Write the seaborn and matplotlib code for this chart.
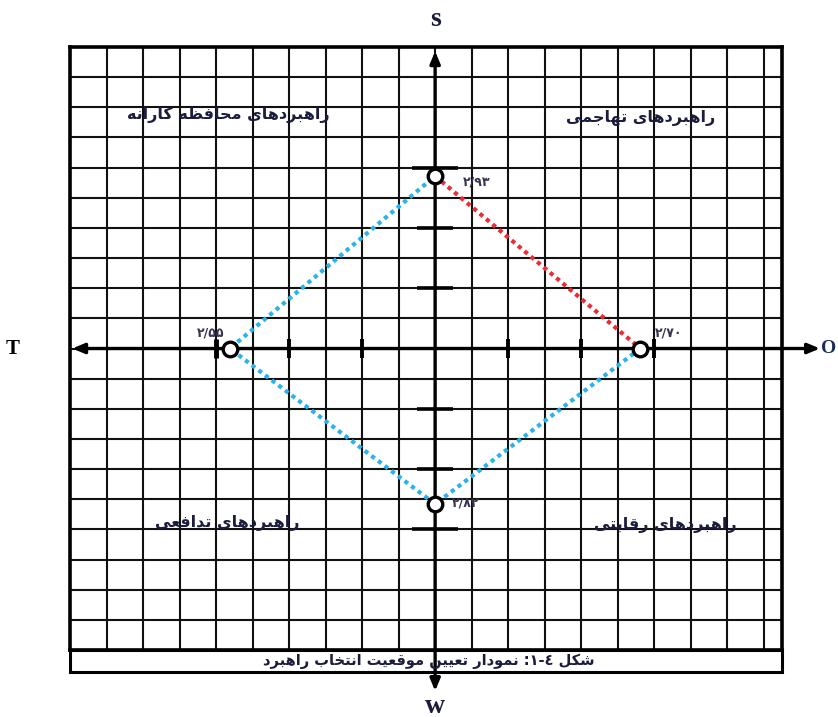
import numpy as np
import pandas as pd
import matplotlib
matplotlib.use("Agg")
import matplotlib.pyplot as plt
import seaborn as sns
from matplotlib.patches import Rectangle

# ---------------- data ----------------
point_names = ["S", "T", "O", "W"]
point_x = [0.0, -2.81, 2.81, 0.0]          # positions
point_y = [2.86, 0.0, 0.0, -2.58]
point_labels = ["۲/۹۳", "۲/۵۵", "۲/۷۰", "۲/۸۲"]
axis_ticks = [-3, -2, -1, 1, 2, 3]
quadrant_texts = ["راهبردهای محافظه کارانه", "راهبردهای تهاجمی",
                  "راهبردهای تدافعی", "راهبردهای رقابتی"]
caption = "شکل ٤-١: نمودار تعیین موقعیت انتخاب راهبرد"

# ---------------- minimal Arabic/Persian shaping ----------------
FORMS = {
    'ا': ('\uFE8D', '\uFE8E', None, None),
    'ب': ('\uFE8F', '\uFE90', '\uFE91', '\uFE92'),
    'ت': ('\uFE95', '\uFE96', '\uFE97', '\uFE98'),
    'ج': ('\uFE9D', '\uFE9E', '\uFE9F', '\uFEA0'),
    'ح': ('\uFEA1', '\uFEA2', '\uFEA3', '\uFEA4'),
    'خ': ('\uFEA5', '\uFEA6', '\uFEA7', '\uFEA8'),
    'د': ('\uFEA9', '\uFEAA', None, None),
    'ر': ('\uFEAD', '\uFEAE', None, None),
    'ش': ('\uFEB5', '\uFEB6', '\uFEB7', '\uFEB8'),
    'ظ': ('\uFEC5', '\uFEC6', '\uFEC7', '\uFEC8'),
    'ع': ('\uFEC9', '\uFECA', '\uFECB', '\uFECC'),
    'ف': ('\uFED1', '\uFED2', '\uFED3', '\uFED4'),
    'ق': ('\uFED5', '\uFED6', '\uFED7', '\uFED8'),
    'ل': ('\uFEDD', '\uFEDE', '\uFEDF', '\uFEE0'),
    'م': ('\uFEE1', '\uFEE2', '\uFEE3', '\uFEE4'),
    'ن': ('\uFEE5', '\uFEE6', '\uFEE7', '\uFEE8'),
    'ه': ('\uFEE9', '\uFEEA', '\uFEEB', '\uFEEC'),
    'و': ('\uFEED', '\uFEEE', None, None),
    'ی': ('\uFBFC', '\uFBFD', '\uFBFE', '\uFBFF'),
    'ک': ('\uFB8E', '\uFB8F', '\uFB90', '\uFB91'),
}


def shape(s):
    out = []
    for i, c in enumerate(s):
        if c not in FORMS:
            out.append(c)
            continue
        prev = s[i - 1] if i > 0 else ''
        nxt = s[i + 1] if i + 1 < len(s) else ''
        jp = prev in FORMS and FORMS[prev][2] is not None
        jn = FORMS[c][2] is not None and nxt in FORMS
        iso, fin, ini, med = FORMS[c]
        if jp and jn:
            out.append(med)
        elif jp:
            out.append(fin)
        elif jn:
            out.append(ini)
        else:
            out.append(iso)
    return ''.join(reversed(out))


# ---------------- figure ----------------
sns.set_theme(style="white")
plt.rcParams['font.family'] = ['DejaVu Sans']

W, H = 838, 717
fig = plt.figure(figsize=(W / 100, H / 100), dpi=100)
left_px, right_px, top_px, bot_px = 70, 782, 47, 650
ax = fig.add_axes([left_px / W, (H - bot_px) / H,
                   (right_px - left_px) / W, (bot_px - top_px) / H])
xmin, xmax, ymin, ymax = -5.0, 4.75, -5.0, 5.0
ax.set_xlim(xmin, xmax)
ax.set_ylim(ymin, ymax)
ux = (right_px - left_px) / (xmax - xmin)   # px per unit
uy = (bot_px - top_px) / (ymax - ymin)

# grid
ax.set_xticks(np.arange(-5.0, 4.76, 0.5))
ax.set_yticks(np.arange(-5.0, 5.01, 0.5))
ax.grid(True, color="#111111", lw=1.5)
ax.tick_params(left=False, bottom=False, labelleft=False, labelbottom=False)
for sp in ax.spines.values():
    sp.set_color("black")
    sp.set_linewidth(2.6)

# main axes with arrows at both ends
arrow = dict(arrowstyle="<|-|>,head_length=0.6,head_width=0.25",
             lw=2.4, color="black", shrinkA=0, shrinkB=0)
ax.annotate("", xy=(0, 4.93), xytext=(0, -5.68), arrowprops=arrow,
            annotation_clip=False, zorder=5)
ax.annotate("", xy=(-4.97, 0), xytext=(5.27, 0), arrowprops=arrow,
            annotation_clip=False, zorder=5)

# ticks on the axes
for t in axis_ticks:
    hw = 0.32 if abs(t) == 3 else 0.25
    ax.plot([-hw, hw], [t, t], color="black", lw=2.6, solid_capstyle="butt", zorder=5)
    ax.plot([t, t], [-0.15, 0.15], color="black", lw=3.5 if t == -3 else 2.8,
            solid_capstyle="butt", zorder=5)

# diamond lines
pts = pd.DataFrame({"name": point_names, "x": point_x, "y": point_y,
                    "label": point_labels})
p = pts.set_index("name")
red = pd.DataFrame({"x": [p.loc["S", "x"], p.loc["O", "x"]],
                    "y": [p.loc["S", "y"], p.loc["O", "y"]]})
blue = pd.DataFrame({"x": [p.loc[n, "x"] for n in ["O", "W", "T", "S"]],
                     "y": [p.loc[n, "y"] for n in ["O", "W", "T", "S"]]})
sns.lineplot(data=red, x="x", y="y", sort=False, estimator=None, ax=ax,
             color="#ee2b34", lw=3.0, linestyle=(0, (1, 1)), zorder=6)
sns.lineplot(data=blue, x="x", y="y", sort=False, estimator=None, ax=ax,
             color="#2ab2ea", lw=3.0, linestyle=(0, (1, 1)), zorder=6)

# points
sns.scatterplot(data=pts, x="x", y="y", ax=ax, s=110, facecolor="white",
                edgecolor="black", linewidth=2.4, zorder=8, legend=False)

# point labels
offsets = {"S": (20, -4, "left"), "T": (-14, 11, "center"),
           "O": (20, 11, "center"), "W": (12, 1, "left")}
for _, r in pts.iterrows():
    dx, dy, ha = offsets[r["name"]]
    ax.annotate(r["label"], (r["x"], r["y"]), xytext=(dx, dy),
                textcoords="offset points", ha=ha, va="center",
                fontsize=9, fontweight="bold", color="#3a3450", zorder=9)

# quadrant texts
q_pos = [(-2.83, 3.87), (2.82, 3.83), (-2.85, -2.9), (3.15, -2.93)]
for txt, (x, y) in zip(quadrant_texts, q_pos):
    ax.text(x, y, shape(txt), ha="center", va="center", fontsize=11.5,
            fontweight="bold", color="#1c1c3c", zorder=9)

# axis letters
ax.text(0, 5.45, "s", ha="center", va="center", fontsize=20, fontweight="bold",
        family="Liberation Serif", color="#1c1c3c", clip_on=False)
ax.text(0, -5.93, "w", ha="center", va="center", fontsize=20, fontweight="bold",
        family="Liberation Serif", color="#1c1c3c", clip_on=False)
ax.text(-5.78, 0, "T", ha="center", va="center", fontsize=15, fontweight="bold",
        family="Liberation Serif", color="black", clip_on=False)
ax.text(5.29, 0, "O", ha="left", va="center", fontsize=14, fontweight="bold",
        family="Liberation Serif", color="#1c2c5c", clip_on=False)

# caption box
cap_bot = -5.0 - (672 - 650) / uy
ax.add_patch(Rectangle((xmin, cap_bot), xmax - xmin, -5.0 - cap_bot,
                       facecolor="white", edgecolor="black", lw=2.2,
                       clip_on=False, zorder=4))
ax.text(-0.08, (cap_bot - 5.0) / 2, shape(caption), ha="center", va="center",
        fontsize=10.5, fontweight="bold", color="#1c1c3c", zorder=9, clip_on=False)

fig.savefig("out.png", dpi=100)
